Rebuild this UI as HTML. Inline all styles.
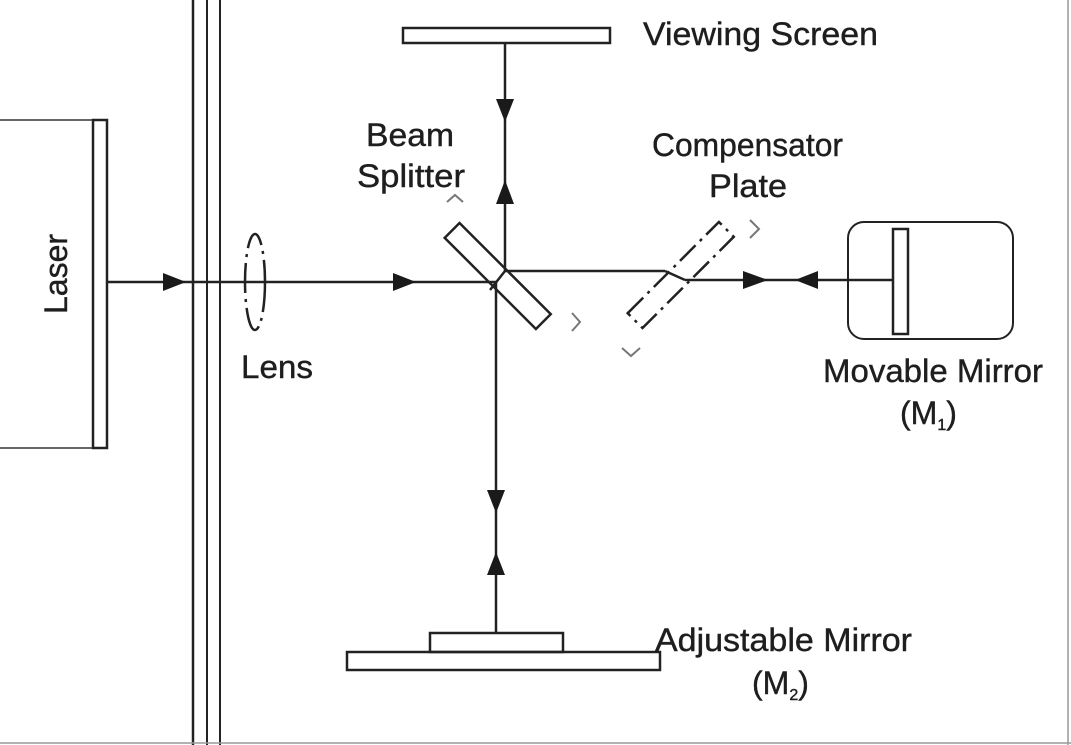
<!DOCTYPE html>
<html><head><style>
html,body{margin:0;padding:0;background:#fff;}
svg{display:block;}
text{font-family:"Liberation Sans",Arial,sans-serif;fill:#1e1e1e;font-size:32px;stroke:#1e1e1e;stroke-width:0.4;}
</style></head><body>
<svg width="1071" height="745" viewBox="0 0 1071 745" xmlns="http://www.w3.org/2000/svg">
<g stroke="#222" stroke-width="2.5" fill="none">
<polyline points="0,120 93,120" stroke="#666" stroke-width="2"/>
<polyline points="0,448 93,448" stroke="#666" stroke-width="2"/>
<rect x="93" y="120" width="14" height="328"/>
<line x1="193" y1="0" x2="193" y2="745"/>
<line x1="207" y1="0" x2="207" y2="745" stroke-width="2"/>
<line x1="220" y1="0" x2="220" y2="745" stroke-width="2"/>
<line x1="1068" y1="0" x2="1068" y2="745" stroke="#999" stroke-width="1.5"/>
<line x1="0" y1="743" x2="1071" y2="743" stroke="#999" stroke-width="1.5"/>
<line x1="107" y1="282" x2="497" y2="282"/>
<ellipse cx="255" cy="282" rx="10" ry="48" stroke-dasharray="30,6,3,6"/>
<rect x="433" y="265" width="129" height="21" transform="rotate(45 497 276)"/>
<line x1="505" y1="43" x2="505" y2="271"/>
<line x1="496" y1="282" x2="496" y2="633"/>
<line x1="490" y1="290" x2="505" y2="271"/>
<line x1="505" y1="271" x2="665" y2="271"/>
<line x1="665" y1="271" x2="685" y2="280"/>
<line x1="685" y1="280" x2="893" y2="280"/>
<rect x="616" y="265" width="129" height="21" transform="rotate(-45 680 275)" stroke-dasharray="22,6,3,6"/>
<rect x="403" y="28" width="207" height="15"/>
<rect x="848" y="222" width="165" height="117" rx="16" stroke-width="2"/>
<rect x="893" y="229" width="15" height="105"/>
<rect x="430" y="633" width="133" height="19"/>
<rect x="347" y="652" width="313" height="18"/>
<polyline points="447,202 455,195 463,202" stroke="#777" stroke-width="2"/>
<polyline points="572,313 580,322 572,331" stroke="#777" stroke-width="2"/>
<polyline points="750,220 759,229 750,238" stroke="#777" stroke-width="2"/>
<polyline points="622,348 631,356 640,348" stroke="#777" stroke-width="2"/>
</g>
<g fill="#1a1a1a">
<polygon points="163,273 163,291 186,282"/>
<polygon points="393,273 393,291 416,282"/>
<polygon points="743,271 743,289 768,280"/>
<polygon points="818,271 818,289 795,280"/>
<polygon points="496,99 514,99 505,122"/>
<polygon points="496,204 514,204 505,180"/>
<polygon points="487,490 505,490 496,513"/>
<polygon points="487,575 505,575 496,552"/>
</g>
<text x="643" y="45" textLength="235" lengthAdjust="spacingAndGlyphs">Viewing Screen</text>
<text x="366" y="146" textLength="88" lengthAdjust="spacingAndGlyphs">Beam</text>
<text x="357" y="187" textLength="108" lengthAdjust="spacingAndGlyphs">Splitter</text>
<text x="652" y="156" textLength="191" lengthAdjust="spacingAndGlyphs">Compensator</text>
<text x="709" y="197" textLength="78" lengthAdjust="spacingAndGlyphs">Plate</text>
<text x="241" y="378" textLength="72" lengthAdjust="spacingAndGlyphs">Lens</text>
<text x="823" y="382" textLength="220" lengthAdjust="spacingAndGlyphs">Movable Mirror</text>
<text x="900" y="424">(M<tspan font-size="16" dy="6">1</tspan><tspan dy="-6">)</tspan></text>
<text x="655" y="651" textLength="257" lengthAdjust="spacingAndGlyphs">Adjustable Mirror</text>
<text x="752" y="694">(M<tspan font-size="16" dy="6">2</tspan><tspan dy="-6">)</tspan></text>
<text transform="translate(67,274) rotate(-90)" text-anchor="middle" x="0" y="0">Laser</text>
</svg>
</body></html>
